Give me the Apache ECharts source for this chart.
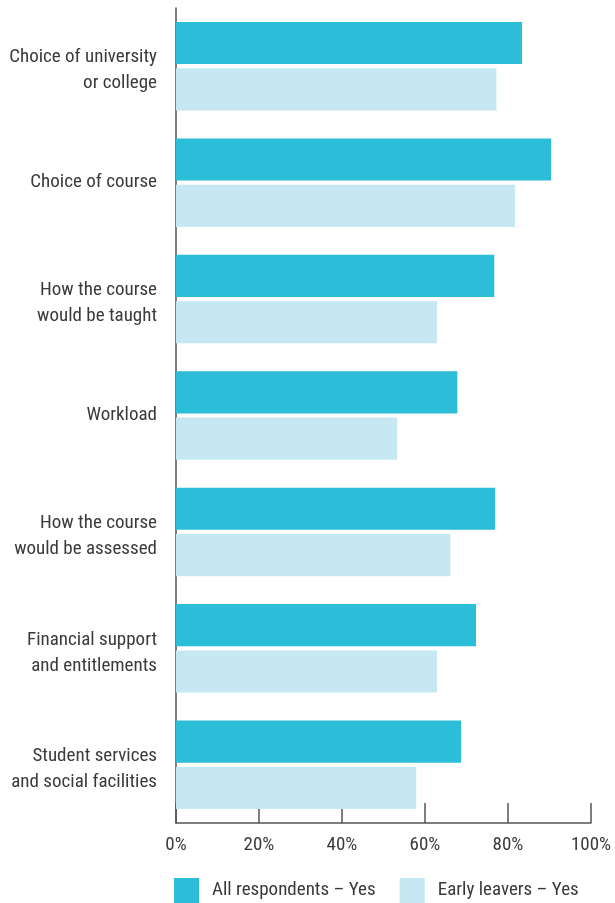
<!DOCTYPE html>
<html>
<head>
<meta charset="utf-8">
<style>
  html, body { margin: 0; padding: 0; background: #fff; }
  #chart { width: 615px; height: 903px; }
</style>
<script src="https://cdn.jsdelivr.net/npm/echarts@6/dist/echarts.min.js"></script>
</head>
<body>
<div id="chart"></div>
<script>
// Survey factors (top to bottom)
const categories = [
  'Choice of university\nor college',
  'Choice of course',
  'How the course\nwould be taught',
  'Workload',
  'How the course\nwould be assessed',
  'Financial support\nand entitlements',
  'Student services\nand social facilities'
];
// Share answering "Yes" (%)
const allRespondents = [83.4, 90.4, 76.7, 67.8, 76.9, 72.3, 68.7];
const earlyLeavers   = [77.2, 81.7, 62.9, 53.3, 66.1, 62.9, 57.9];
const seriesNames = ['All respondents \u2013 Yes', 'Early leavers \u2013 Yes'];
const xTicks = [0, 20, 40, 60, 80, 100];

const FONT = '"Roboto Condensed", "DejaVu Sans Condensed", sans-serif';
const TEXT = '#3a3a3a';
const AXIS = '#555555';

// Two-line labels get a thin spacer line on top so they sit slightly lower
function yLabel(v) {
  if (v.indexOf('\n') < 0) return '{t|' + v + '}';
  return '{g| }\n' + v.split('\n').map(s => '{t|' + s + '}').join('\n');
}

const chart = echarts.init(document.getElementById('chart'), null, { renderer: 'canvas' });
chart.setOption({
  animation: false,
  textStyle: { fontFamily: FONT },
  grid: { left: 176, right: 24, top: 8, bottom: 80, containLabel: false, outerBoundsMode: 'none' },
  legend: {
    bottom: 0,
    left: 174,
    padding: 0,
    itemWidth: 25,
    itemHeight: 25,
    itemGap: 24,
    icon: 'rect',
    textStyle: { fontFamily: FONT, fontSize: 19, color: TEXT, padding: [0, 0, 0, 8] },
    data: seriesNames
  },
  xAxis: {
    type: 'value',
    min: xTicks[0],
    max: xTicks[xTicks.length - 1],
    interval: 20,
    axisLine: { show: true, lineStyle: { color: AXIS, width: 1.5 } },
    axisTick: { show: true, inside: true, length: 20, lineStyle: { color: AXIS, width: 1.5 } },
    splitLine: { show: false },
    axisLabel: {
      formatter: v => v + '%',
      fontFamily: FONT, fontSize: 19, color: TEXT, margin: 13
    }
  },
  yAxis: {
    type: 'category',
    inverse: true,
    data: categories,
    axisLine: { show: true, lineStyle: { color: AXIS, width: 1.5 } },
    axisTick: { show: false },
    axisLabel: {
      fontFamily: FONT, fontSize: 19, color: TEXT, margin: 19,
      align: 'right',
      formatter: yLabel,
      rich: {
        t: { fontFamily: FONT, fontSize: 19, color: TEXT, lineHeight: 26 },
        g: { fontSize: 2, lineHeight: 9 }
      }
    }
  },
  series: [
    {
      name: seriesNames[0],
      type: 'bar',
      data: allRespondents,
      itemStyle: { color: '#2CBDD8' },
      barGap: '10%',
      barCategoryGap: '24%'
    },
    {
      name: seriesNames[1],
      type: 'bar',
      data: earlyLeavers,
      itemStyle: { color: '#C6E8F2' }
    }
  ]
});
</script>
</body>
</html>
